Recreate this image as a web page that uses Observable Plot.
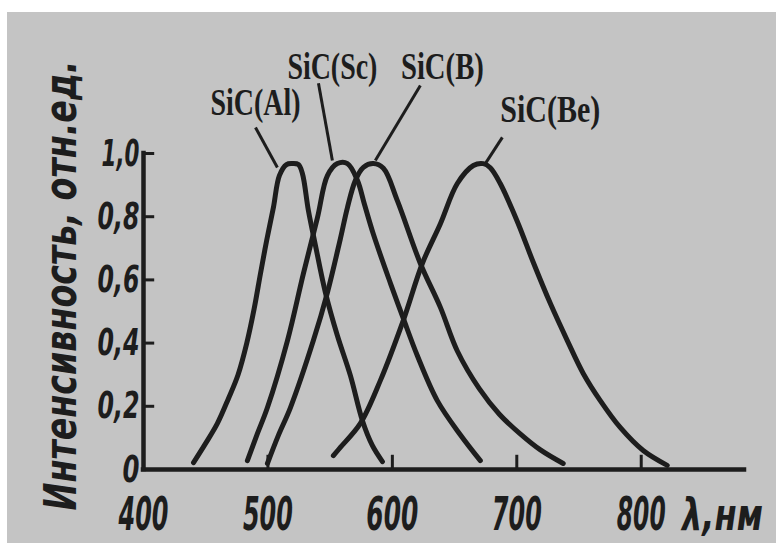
<!DOCTYPE html>
<html><head><meta charset="utf-8">
<script src="https://cdn.jsdelivr.net/npm/d3@7"></script>
<script src="https://cdn.jsdelivr.net/npm/@observablehq/plot@0.6"></script>
<style>
html,body{margin:0;padding:0;background:#fff;}
#wrap{position:relative;width:776px;height:543px;overflow:hidden;}
#paper{position:absolute;left:7px;top:12px;right:0;bottom:0;background:#c4c4c4;}
#chart{position:absolute;left:0;top:0;}
</style></head><body>
<div id="wrap"><div id="paper"></div><div id="chart"></div></div>
<script>
// ---- data ----
const wavelengthTicks = [400, 500, 600, 700, 800];
const wavelengthTickLabels = ["400", "500", "600", "700", "800"];
const intensityTicks = [0, 0.2, 0.4, 0.6, 0.8, 1.0];
const intensityTickLabels = ["0", "0,2", "0,4", "0,6", "0,8", "1,0"];
const xTitle = "λ,нм";
const yTitle = "Интенсивность, отн.ед.";

const alNm = [440.2, 449.8, 459.4, 468.3, 476.0, 483.0, 489.0, 494.0, 499.0, 504.4, 509.2, 514.9, 519.7, 524.5, 527.7, 532.5, 538.2, 546.2, 555.8, 566.3, 575.9, 583.9, 592.0];
const alI  = [0.022, 0.082, 0.146, 0.225, 0.300, 0.400, 0.510, 0.620, 0.725, 0.829, 0.930, 0.965, 0.968, 0.965, 0.937, 0.820, 0.709, 0.560, 0.424, 0.297, 0.155, 0.076, 0.025];

const scNm = [483.5, 491.6, 499.6, 515.7, 528.5, 539.8, 547.8, 555.8, 563.9, 571.9, 577.5, 584.7, 598.4, 608.8, 620.1, 636.1, 654.6, 670.7];
const scI  = [0.028, 0.114, 0.196, 0.408, 0.620, 0.797, 0.930, 0.968, 0.968, 0.915, 0.840, 0.745, 0.590, 0.478, 0.360, 0.218, 0.110, 0.028];

const bNm = [499.6, 508.4, 518.1, 536.5, 547.8, 558.2, 563.9, 570.3, 576.7, 584.7, 592.8, 604.0, 622.5, 638.6, 652.2, 670.0, 686.0, 703.0, 719.0, 737.3];
const bI  = [0.019, 0.108, 0.196, 0.408, 0.560, 0.730, 0.829, 0.915, 0.956, 0.968, 0.953, 0.851, 0.652, 0.513, 0.375, 0.255, 0.175, 0.112, 0.062, 0.019];

const beNm = [552.6, 558.2, 574.3, 590.4, 608.8, 624.1, 638.6, 652.2, 665.1, 673.1, 678.7, 686.7, 700.4, 713.3, 727.0, 740.6, 753.4, 767.1, 783.1, 801.6, 820.9];
const beI  = [0.044, 0.070, 0.146, 0.282, 0.472, 0.652, 0.778, 0.905, 0.962, 0.968, 0.955, 0.905, 0.785, 0.655, 0.525, 0.408, 0.304, 0.218, 0.133, 0.060, 0.013];

const seriesNames = ["SiC(Al)", "SiC(Sc)", "SiC(B)", "SiC(Be)"];
// label anchors (data units) and leader lines
const labelNm = [490.0, 551.8, 640.2, 726.9];
const labelI  = [1.158, 1.272, 1.272, 1.138];
const leaderFromNm = [490.0, 540.6, 622.5, 688.4];
const leaderFromI  = [1.082, 1.222, 1.215, 1.051];
const leaderToNm   = [507.6, 551.8, 586.3, 674.7];
const leaderToI    = [0.956, 0.978, 0.978, 0.968];

// ---- build tables ----
const seriesNm = [alNm, scNm, bNm, beNm];
const seriesI = [alI, scI, bI, beI];
const curves = seriesNames.flatMap((name, k) =>
  seriesNm[k].map((nm, i) => ({series: name, nm, intensity: seriesI[k][i]})));
const labels = seriesNames.map((name, k) => ({name, nm: labelNm[k], intensity: labelI[k]}));
const leaders = seriesNames.map((name, k) => ({
  x1: leaderFromNm[k], y1: leaderFromI[k], x2: leaderToNm[k], y2: leaderToI[k]}));

const ink = "#1d1d1d";
const sansFont = "'Liberation Sans Narrow', 'DejaVu Sans Condensed', 'DejaVu Sans', sans-serif";
const serifFont = "'Liberation Serif', 'DejaVu Serif', serif";

const chart = Plot.plot({
  width: 776,
  height: 543,
  marginLeft: 143,
  marginRight: 32,
  marginTop: 153,
  marginBottom: 74,
  style: {background: "transparent", overflow: "visible"},
  x: {domain: [400, 883], axis: null},
  y: {domain: [0, 1], axis: null},
  marks: [
    // axes lines
    Plot.ruleY([0], {x1: 400, x2: 883, stroke: ink, strokeWidth: 4.5, strokeLinecap: "square"}),
    Plot.ruleX([400], {y1: 0, y2: 1, stroke: ink, strokeWidth: 4.5, strokeLinecap: "square"}),
    // inward ticks
    Plot.ruleY(intensityTicks.slice(1), {x1: 400, x2: 409, stroke: ink, strokeWidth: 3}),
    Plot.ruleX(wavelengthTicks.slice(1), {y1: 0, y2: 0.045, stroke: ink, strokeWidth: 3}),
    // tick labels
    Plot.text(wavelengthTicks, {
      x: d => d, y: () => 0, text: (d, i) => wavelengthTickLabels[i],
      dy: 46, fontSize: 46, fontWeight: "bold", fontStyle: "italic",
      fontFamily: sansFont, fill: ink, textAnchor: "middle", lineAnchor: "middle"
    }),
    Plot.text(intensityTicks, {
      x: () => 400, y: d => d, text: (d, i) => intensityTickLabels[i],
      dx: -4, fontSize: 38, fontWeight: "bold", fontStyle: "italic",
      fontFamily: sansFont, fill: ink, textAnchor: "end", lineAnchor: "middle"
    }),
    // axis titles
    Plot.text([xTitle], {
      frameAnchor: "bottom-right", text: d => d, dx: -22, dy: 46,
      fontSize: 44, fontWeight: "bold", fontStyle: "italic",
      fontFamily: sansFont, fill: ink, textAnchor: "middle", lineAnchor: "middle"
    }),
    Plot.text([yTitle], {
      frameAnchor: "left", text: d => d, rotate: -90, dx: -82, dy: -26,
      fontSize: 44, fontWeight: "bold", fontStyle: "italic",
      fontFamily: sansFont, fill: ink, textAnchor: "middle", lineAnchor: "middle"
    }),
    // curves
    Plot.line(curves, {
      x: "nm", y: "intensity", z: "series", curve: "catmull-rom",
      stroke: ink, strokeWidth: 5, strokeLinecap: "round", strokeLinejoin: "round"
    }),
    // leaders + labels
    Plot.link(leaders, {x1: "x1", y1: "y1", x2: "x2", y2: "y2", stroke: ink, strokeWidth: 3}),
    Plot.text(labels, {
      x: "nm", y: "intensity", text: "name",
      fontSize: 37, fontWeight: "bold", fontFamily: serifFont,
      fill: ink, textAnchor: "middle", lineAnchor: "middle"
    })
  ]
});
document.getElementById("chart").appendChild(chart);

// horizontal fitting of condensed lettering to the widths seen in the scan
const fitWidth = new Map([
  ["400", 50], ["500", 50], ["600", 52], ["700", 50], ["800", 49],
  ["0", 17], ["0,2", 42], ["0,4", 42], ["0,6", 42], ["0,8", 42], ["1,0", 38],
  [xTitle, 81], [yTitle, 450],
  ["SiC(Al)", 90], ["SiC(Sc)", 90], ["SiC(B)", 83], ["SiC(Be)", 100]
]);
chart.querySelectorAll("text").forEach(t => {
  const s = t.textContent;
  if (!fitWidth.has(s)) return;
  const w = t.getComputedTextLength();
  if (!w) return;
  const k = fitWidth.get(s) / w;
  let tr = t.getAttribute("transform") || "";
  const xa = t.getAttribute("x");
  if (xa != null && !isNaN(+xa) && +xa !== 0) {
    tr = `translate(${+xa},0) ` + tr;
    t.setAttribute("x", 0);
  }
  t.setAttribute("transform", (tr + ` scale(${k.toFixed(3)},1)`).trim());
});
</script></body></html>
